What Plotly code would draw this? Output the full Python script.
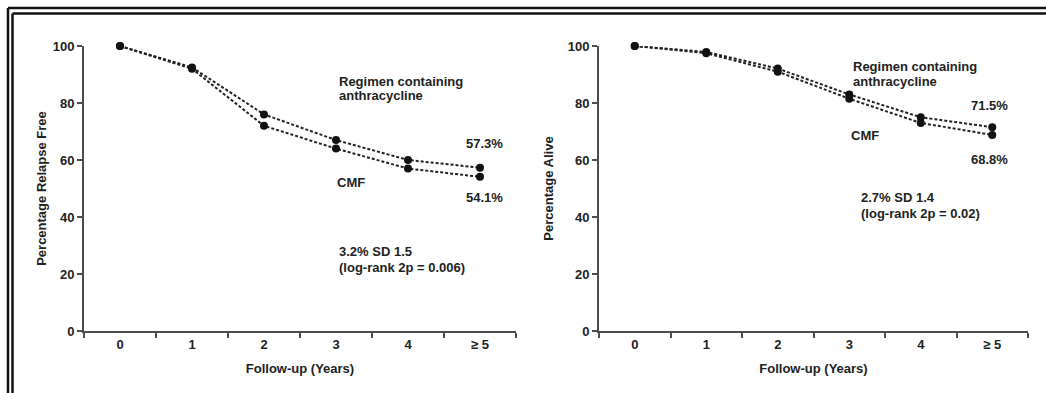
import plotly.graph_objects as go

categories = ["0", "1", "2", "3", "4", "≥ 5"]
rfs_anthra = [100, 92.5, 76, 67, 60, 57.3]
rfs_cmf = [100, 92, 72, 64, 57, 54.1]
os_anthra = [100, 97.9, 92.1, 83, 75, 71.5]
os_cmf = [100, 97.5, 91, 81.5, 73, 68.8]

W, H = 1046, 393
FONT = "Arial, 'Liberation Sans', sans-serif"
TXT = "#222222"
AX = "#4d4d4d"

def px(x):
    return x / W

def py(y):
    return 1 - y / H

fig = go.Figure()

line_style = dict(color="#222222", width=2, dash="3px,2px")
marker_style = dict(color="#111111", size=8)

for xa, ya, series in [("x", "y", [rfs_anthra, rfs_cmf]), ("x2", "y2", [os_anthra, os_cmf])]:
    for s in series:
        fig.add_trace(go.Scatter(x=categories, y=s, mode="lines+markers",
                                 line=line_style, marker=marker_style,
                                 xaxis=xa, yaxis=ya, cliponaxis=False,
                                 showlegend=False, hoverinfo="x+y"))

ydom = [py(331), py(46)]
axis_common = dict(showline=True, linecolor=AX, linewidth=2, ticks="outside",
                   tickcolor=AX, tickwidth=2, ticklen=5, showgrid=False, zeroline=False,
                   automargin=False,
                   tickfont=dict(family=FONT, size=13, color=TXT, weight="bold"),
                   title_font=dict(family=FONT, size=13, color=TXT, weight="bold"))

xcommon = dict(type="category", tickson="boundaries", range=[-0.5, 5.5],
               title=dict(text="Follow-up (Years)", standoff=13), **axis_common)
ycommon = dict(range=[0, 100], tickvals=[0, 20, 40, 60, 80, 100], **axis_common)

fig.update_layout(
    template="none",
    width=W, height=H, autosize=False,
    margin=dict(l=0, r=0, t=0, b=0, pad=0),
    paper_bgcolor="white", plot_bgcolor="white",
    font=dict(family=FONT, color=TXT),
    showlegend=False,
    xaxis=dict(domain=[px(84), px(516)], anchor="y", **xcommon),
    yaxis=dict(domain=ydom, anchor="x",
               title=dict(text="Percentage Relapse Free", standoff=3), **ycommon),
    xaxis2=dict(domain=[px(599), px(1028)], anchor="y2", **xcommon),
    yaxis2=dict(domain=ydom, anchor="x2",
                title=dict(text="Percentage Alive", standoff=11), **ycommon),
)

def note(x, y, text, xanchor="left"):
    fig.add_annotation(x=px(x), y=py(y), xref="paper", yref="paper", text=text,
                       showarrow=False, xanchor=xanchor, yanchor="middle", align="left",
                       font=dict(family=FONT, size=13, color=TXT, weight="bold"))

# left panel notes
note(337, 81, "Regimen containing")
note(337, 96, "anthracycline")
note(505, 144, "57.3%", "right")
note(335, 182, "CMF")
note(505, 198, "54.1%", "right")
note(337, 251, "3.2% SD 1.5")
note(337, 267, "(log-rank 2p = 0.006)")
# right panel notes
note(851, 66, "Regimen containing")
note(851, 81, "anthracycline")
note(1010, 105, "71.5%", "right")
note(849, 135, "CMF")
note(1010, 159, "68.8%", "right")
note(859, 198, "2.7% SD 1.4")
note(859, 213, "(log-rank 2p = 0.02)")

# double frame on top and left edges
frame = dict(type="line", xref="paper", yref="paper", line=dict(color="#111111", width=2.5))
fig.add_shape(x0=px(8), x1=px(8), y0=py(8), y1=0, **frame)
fig.add_shape(x0=px(8), x1=1, y0=py(8), y1=py(8), **frame)
fig.add_shape(x0=px(12.5), x1=px(12.5), y0=py(13.5), y1=0, **frame)
fig.add_shape(x0=px(12.5), x1=1, y0=py(13.5), y1=py(13.5), **frame)

fig.write_html("out.html", config={"displayModeBar": False},
               post_script="document.body.style.margin='0';")
